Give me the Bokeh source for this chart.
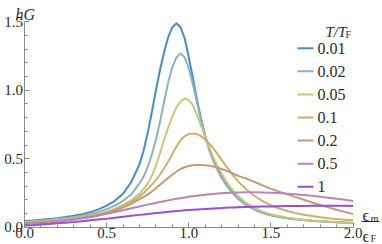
from bokeh.plotting import figure
from bokeh.models import (Range1d, FixedTicker, CustomJSTickFormatter, Label, BoxAnnotation)
from bokeh.embed import file_html
from bokeh.resources import INLINE

# ---- data ----
eps_m = [0.0, 0.05, 0.1, 0.15, 0.2, 0.25, 0.3, 0.35, 0.4, 0.45, 0.5, 0.55, 0.6, 0.65, 0.7,
         0.725, 0.75, 0.775, 0.8, 0.825, 0.85, 0.875, 0.9, 0.925, 0.95, 0.975, 1.0, 1.025,
         1.05, 1.075, 1.1, 1.125, 1.15, 1.175, 1.2, 1.225, 1.25, 1.275, 1.3,
         1.35, 1.4, 1.45, 1.5, 1.55, 1.6, 1.65, 1.7, 1.75, 1.8, 1.85, 1.9, 1.95, 2.0]

hG_001 = [0.045, 0.049, 0.054, 0.060, 0.066, 0.074, 0.083, 0.095, 0.110, 0.130, 0.157, 0.193, 0.245, 0.330, 0.460,
          0.560, 0.690, 0.840, 1.000, 1.150, 1.280, 1.390, 1.460, 1.490, 1.460, 1.380, 1.240, 1.090, 0.930, 0.790,
          0.670, 0.575, 0.500, 0.435, 0.380, 0.330, 0.288, 0.250, 0.215,
          0.165, 0.130, 0.105, 0.088, 0.076, 0.066, 0.058, 0.052, 0.047, 0.043, 0.039, 0.036, 0.034, 0.031]
hG_002 = [0.040, 0.043, 0.048, 0.053, 0.059, 0.066, 0.074, 0.084, 0.096, 0.112, 0.132, 0.158, 0.193, 0.240, 0.320,
          0.370, 0.440, 0.530, 0.640, 0.770, 0.920, 1.060, 1.170, 1.240, 1.270, 1.240, 1.160, 1.040, 0.910, 0.780,
          0.660, 0.560, 0.480, 0.415, 0.360, 0.312, 0.272, 0.237, 0.207,
          0.161, 0.128, 0.104, 0.087, 0.075, 0.065, 0.058, 0.052, 0.047, 0.043, 0.039, 0.036, 0.033, 0.031]
hG_005 = [0.036, 0.039, 0.043, 0.048, 0.053, 0.059, 0.066, 0.075, 0.085, 0.098, 0.114, 0.135, 0.162, 0.197, 0.245,
          0.280, 0.320, 0.375, 0.450, 0.540, 0.640, 0.730, 0.810, 0.875, 0.920, 0.940, 0.930, 0.890, 0.820, 0.740,
          0.660, 0.580, 0.510, 0.445, 0.390, 0.340, 0.297, 0.260, 0.227,
          0.177, 0.141, 0.114, 0.095, 0.081, 0.070, 0.061, 0.055, 0.049, 0.045, 0.041, 0.038, 0.035, 0.033]
hG_01 = [0.033, 0.036, 0.040, 0.044, 0.049, 0.055, 0.062, 0.070, 0.080, 0.093, 0.108, 0.128, 0.153, 0.185, 0.225,
         0.250, 0.280, 0.310, 0.345, 0.385, 0.430, 0.480, 0.535, 0.590, 0.635, 0.665, 0.680, 0.685, 0.680, 0.665,
         0.640, 0.610, 0.575, 0.535, 0.490, 0.450, 0.410, 0.370, 0.335,
         0.275, 0.228, 0.190, 0.160, 0.137, 0.118, 0.103, 0.091, 0.081, 0.073, 0.066, 0.060, 0.055, 0.050]
hG_02 = [0.030, 0.033, 0.036, 0.040, 0.045, 0.050, 0.057, 0.065, 0.075, 0.087, 0.102, 0.120, 0.143, 0.170, 0.205,
         0.222, 0.240, 0.260, 0.285, 0.310, 0.335, 0.360, 0.385, 0.405, 0.425, 0.438, 0.447, 0.452, 0.455, 0.455,
         0.453, 0.449, 0.443, 0.435, 0.425, 0.414, 0.402, 0.389, 0.375,
         0.355, 0.330, 0.305, 0.280, 0.260, 0.240, 0.220, 0.200, 0.180, 0.162, 0.145, 0.128, 0.112, 0.096]
hG_05 = [0.022, 0.026, 0.030, 0.035, 0.041, 0.048, 0.056, 0.065, 0.075, 0.086, 0.098, 0.111, 0.124, 0.138, 0.151,
         0.158, 0.165, 0.171, 0.178, 0.184, 0.190, 0.196, 0.202, 0.207, 0.212, 0.217, 0.222, 0.226, 0.230, 0.234,
         0.237, 0.240, 0.243, 0.246, 0.248, 0.250, 0.252, 0.253, 0.254,
         0.255, 0.255, 0.254, 0.252, 0.249, 0.245, 0.240, 0.235, 0.229, 0.222, 0.215, 0.208, 0.200, 0.192]
hG_1 = [0.012, 0.015, 0.019, 0.023, 0.028, 0.033, 0.038, 0.044, 0.050, 0.056, 0.062, 0.069, 0.076, 0.083, 0.090,
        0.093, 0.096, 0.100, 0.103, 0.106, 0.109, 0.112, 0.115, 0.118, 0.120, 0.123, 0.125, 0.127, 0.129, 0.131,
        0.133, 0.135, 0.137, 0.139, 0.140, 0.142, 0.143, 0.144, 0.146,
        0.148, 0.150, 0.151, 0.152, 0.153, 0.154, 0.155, 0.155, 0.156, 0.156, 0.156, 0.156, 0.156, 0.155]

temperature_labels = ["0.01", "0.02", "0.05", "0.1", "0.2", "0.5", "1"]
series = [hG_001, hG_002, hG_005, hG_01, hG_02, hG_05, hG_1]
colors = ["#4a8cc8", "#8fb0bf", "#c8c87a", "#c9b16f", "#c59a78", "#b786b5", "#9a4fd0"]

x_major_ticks = [0.0, 0.5, 1.0, 1.5, 2.0]
x_minor_ticks = [0.1, 0.2, 0.3, 0.4, 0.6, 0.7, 0.8, 0.9, 1.1, 1.2, 1.3, 1.4, 1.6, 1.7, 1.8, 1.9]
y_major_ticks = [0.0, 0.5, 1.0, 1.5]
y_minor_ticks = [0.1, 0.2, 0.3, 0.4, 0.6, 0.7, 0.8, 0.9, 1.1, 1.2, 1.3, 1.4]

FONT = "Liberation Serif"
AX = "#8a8a8a"
TXT = "#2a2a2a"

W, H = 382, 244
# the frame fills the whole figure; axes are pinned at 0 so everything stays inside it
p = figure(width=W, height=H, output_backend="svg", toolbar_location=None,
           x_range=Range1d(-0.1461, 2.179), y_range=Range1d(-0.1264, 1.656),
           min_border_left=0, min_border_right=0, min_border_top=0, min_border_bottom=0)
p.outline_line_color = None
p.grid.visible = False
p.background_fill_color = "white"
p.border_fill_color = "white"

for ax, maj, mnr, bnd in ((p.xaxis[0], x_major_ticks, x_minor_ticks, (0, 2.0)),
                          (p.yaxis[0], y_major_ticks, y_minor_ticks, (0, 1.5))):
    ax.fixed_location = 0
    ax.bounds = bnd
    ax.ticker = FixedTicker(ticks=maj, minor_ticks=mnr)
    ax.formatter = CustomJSTickFormatter(code="return ''")
    ax.axis_line_color = AX
    ax.major_tick_line_color = AX
    ax.minor_tick_line_color = AX
    ax.major_tick_in = 5
    ax.major_tick_out = 0
    ax.minor_tick_in = 3
    ax.minor_tick_out = 0
    ax.major_label_standoff = 0

# tick labels (serif), placed at the tick values
for t in x_major_ticks:
    p.add_layout(Label(x=t, y=0, text="%.1f" % t, text_font=FONT, text_font_size="15px",
                       text_color=TXT, text_align="center", text_baseline="top", y_offset=-1))
for t in y_major_ticks:
    p.add_layout(Label(x=0, y=t, text="%.1f" % t, text_font=FONT, text_font_size="15px",
                       text_color=TXT, text_align="right", text_baseline="middle", x_offset=-1.5))

for ys, col in zip(series, colors):
    p.line(eps_m, ys, line_color=col, line_width=2)

def lab(text, px, py, size="16px", style="normal", baseline="alphabetic", align="left"):
    # px, py: page pixels from the top-left; screen units of the frame run up from its bottom
    p.add_layout(Label(x=px, y=H - py, x_units="screen", y_units="screen", text=text,
                       text_font=FONT, text_font_size=size, text_font_style=style,
                       text_color=TXT, text_baseline=baseline, text_align=align))

def bar(left, right, top, bottom, color):
    p.add_layout(BoxAnnotation(left=left, right=right, top=H - top, bottom=H - bottom,
                               left_units="screen", right_units="screen",
                               top_units="screen", bottom_units="screen",
                               fill_color=color, fill_alpha=1, line_alpha=0))

# legend: swatches and labels
for i, (name, col) in enumerate(zip(temperature_labels, colors)):
    cy = 47.7 + 23.1 * i
    bar(297, 313, cy - 1, cy + 1, col)
    lab(name, 317, cy, size="16px", baseline="middle")
lab("T/T", 325, 31.5, size="15px", style="italic")
lab("F", 345, 33.5, size="10px")

# axis labels
lab("hG", 15, 13.5, size="16px", style="italic")
lab("\u03f5", 362, 215)
lab("m", 370, 217, size="11px", style="italic")
bar(361, 379, 220.5, 221.5, TXT)
lab("\u03f5", 362, 236)
lab("F", 370, 238, size="10px")

open("out.html", "w").write(file_html(p, INLINE))
